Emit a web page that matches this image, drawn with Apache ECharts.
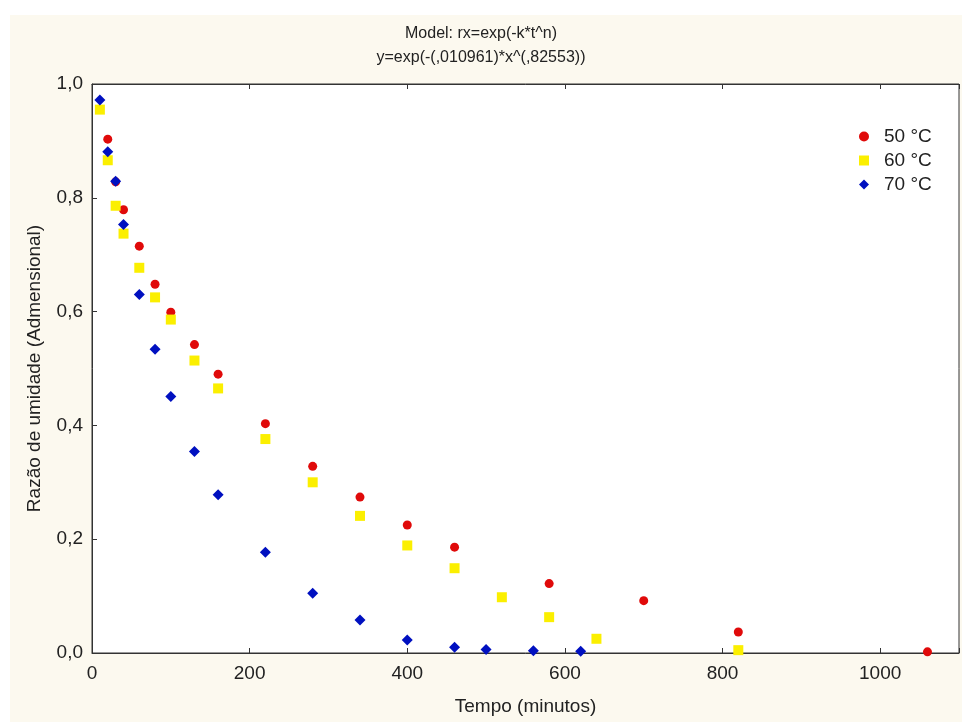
<!DOCTYPE html>
<html>
<head>
<meta charset="utf-8">
<script src="https://cdn.jsdelivr.net/npm/echarts@6/dist/echarts.min.js"></script>
<style>
html,body{margin:0;padding:0;background:#fff;}
#c{width:962px;height:722px;}
</style>
</head>
<body>
<div id="c"></div>
<script>
// Data
const titleLines = ["Model: rx=exp(-k*t^n)", "y=exp(-(,010961)*x^(,82553))"];
const xName = "Tempo (minutos)";
const yName = "Razão de umidade (Admensional)";
const seriesNames = ["50 °C", "60 °C", "70 °C"];

const t50 = [20, 30, 40, 60, 80, 100, 130, 160, 220, 280, 340, 400, 460, 580, 700, 820, 1060];
const r50 = [0.903, 0.828, 0.779, 0.715, 0.648, 0.599, 0.542, 0.490, 0.403, 0.328, 0.274, 0.225, 0.186, 0.122, 0.092, 0.037, 0.002];

const t60 = [10, 20, 30, 40, 60, 80, 100, 130, 160, 220, 280, 340, 400, 460, 520, 580, 640, 820];
const r60 = [0.955, 0.866, 0.786, 0.737, 0.677, 0.625, 0.586, 0.514, 0.465, 0.376, 0.300, 0.241, 0.189, 0.149, 0.098, 0.063, 0.025, 0.005];

const t70 = [10, 20, 30, 40, 60, 80, 100, 130, 160, 220, 280, 340, 400, 460, 500, 560, 620];
const r70 = [0.972, 0.881, 0.829, 0.753, 0.630, 0.534, 0.451, 0.354, 0.278, 0.177, 0.105, 0.058, 0.023, 0.010, 0.006, 0.004, 0.003];

const yTicks = [0, 0.2, 0.4, 0.6, 0.8, 1.0];
const xTicks = [0, 200, 400, 600, 800, 1000];

function pairs(xs, ys){ return xs.map((x,i)=>[x, ys[i]]); }

const FONT = '"Liberation Sans", Arial, sans-serif';
const chart = echarts.init(document.getElementById('c'), null, {renderer:'canvas'});

const axisLineStyle = {color:'#333', width:1};

chart.setOption({
  backgroundColor: '#fcf9ef',
  animation: false,
  textStyle: {fontFamily: FONT},
  graphic: [
    {type:'rect', left:0, top:0, shape:{width:962, height:15}, style:{fill:'#ffffff'}, z:-10},
    {type:'rect', left:0, top:0, shape:{width:10, height:722}, style:{fill:'#ffffff'}, z:-10}
  ],
  title: {
    text: titleLines.join('\n'),
    left: 'center',
    top: 17,
    textStyle: {fontFamily: FONT, fontSize: 16, fontWeight: 'normal', color: '#222', lineHeight: 24}
  },
  legend: {
    orient: 'vertical',
    left: 854,
    top: 122,
    itemWidth: 10,
    itemHeight: 10,
    itemGap: 5,
    data: seriesNames,
    textStyle: {fontFamily: FONT, fontSize: 19, color: '#222', padding: [0, 0, 0, 10]}
  },
  grid: {
    left: 92, right: 2, top: 84, bottom: 69,
    show: true, backgroundColor: '#ffffff', borderColor: '#333', borderWidth: 1
  },
  xAxis: [{
    type: 'value', min: 0, max: 1100, interval: 200,
    name: xName, nameLocation: 'middle', nameGap: 44,
    nameTextStyle: {fontFamily: FONT, fontSize: 19, color: '#222'},
    axisLine: {show: true, lineStyle: axisLineStyle},
    axisTick: {show: true, inside: true, length: 5, lineStyle: axisLineStyle},
    splitLine: {show: false},
    axisLabel: {
      fontFamily: FONT, fontSize: 19, color: '#222', margin: 11,
      formatter: v => xTicks.indexOf(v) >= 0 ? String(v) : ''
    }
  }, {
    type: 'value', position: 'top', min: 0, max: 1100, interval: 200,
    axisLine: {show: true, lineStyle: axisLineStyle},
    axisTick: {show: true, inside: true, length: 5, lineStyle: axisLineStyle},
    axisLabel: {show: false}, splitLine: {show: false}
  }],
  yAxis: {
    type: 'value', min: 0, max: 1, interval: 0.2,
    name: yName, nameLocation: 'middle', nameGap: 48, nameRotate: 90,
    nameTextStyle: {fontFamily: FONT, fontSize: 19, color: '#222'},
    axisLine: {show: true, lineStyle: axisLineStyle},
    axisTick: {show: true, inside: true, length: 5, lineStyle: axisLineStyle},
    splitLine: {show: false},
    axisLabel: {
      fontFamily: FONT, fontSize: 19, color: '#222', margin: 9,
      formatter: v => {
        const k = yTicks.findIndex(t => Math.abs(t - v) < 1e-9);
        return k >= 0 ? yTicks[k].toFixed(1).replace('.', ',') : '';
      }
    }
  },
  series: [
    {name: seriesNames[0], type: 'scatter', symbol: 'circle', symbolSize: 9,
     itemStyle: {color: '#e00a0a', opacity: 1}, data: pairs(t50, r50), clip: false, z: 2},
    {name: seriesNames[1], type: 'scatter', symbol: 'rect', symbolSize: 10,
     itemStyle: {color: '#fbef00', opacity: 1}, data: pairs(t60, r60), clip: false, z: 3},
    {name: seriesNames[2], type: 'scatter', symbol: 'diamond', symbolSize: 11,
     itemStyle: {color: '#0010c0', opacity: 1}, data: pairs(t70, r70), clip: false, z: 4}
  ]
});
</script>
</body>
</html>
